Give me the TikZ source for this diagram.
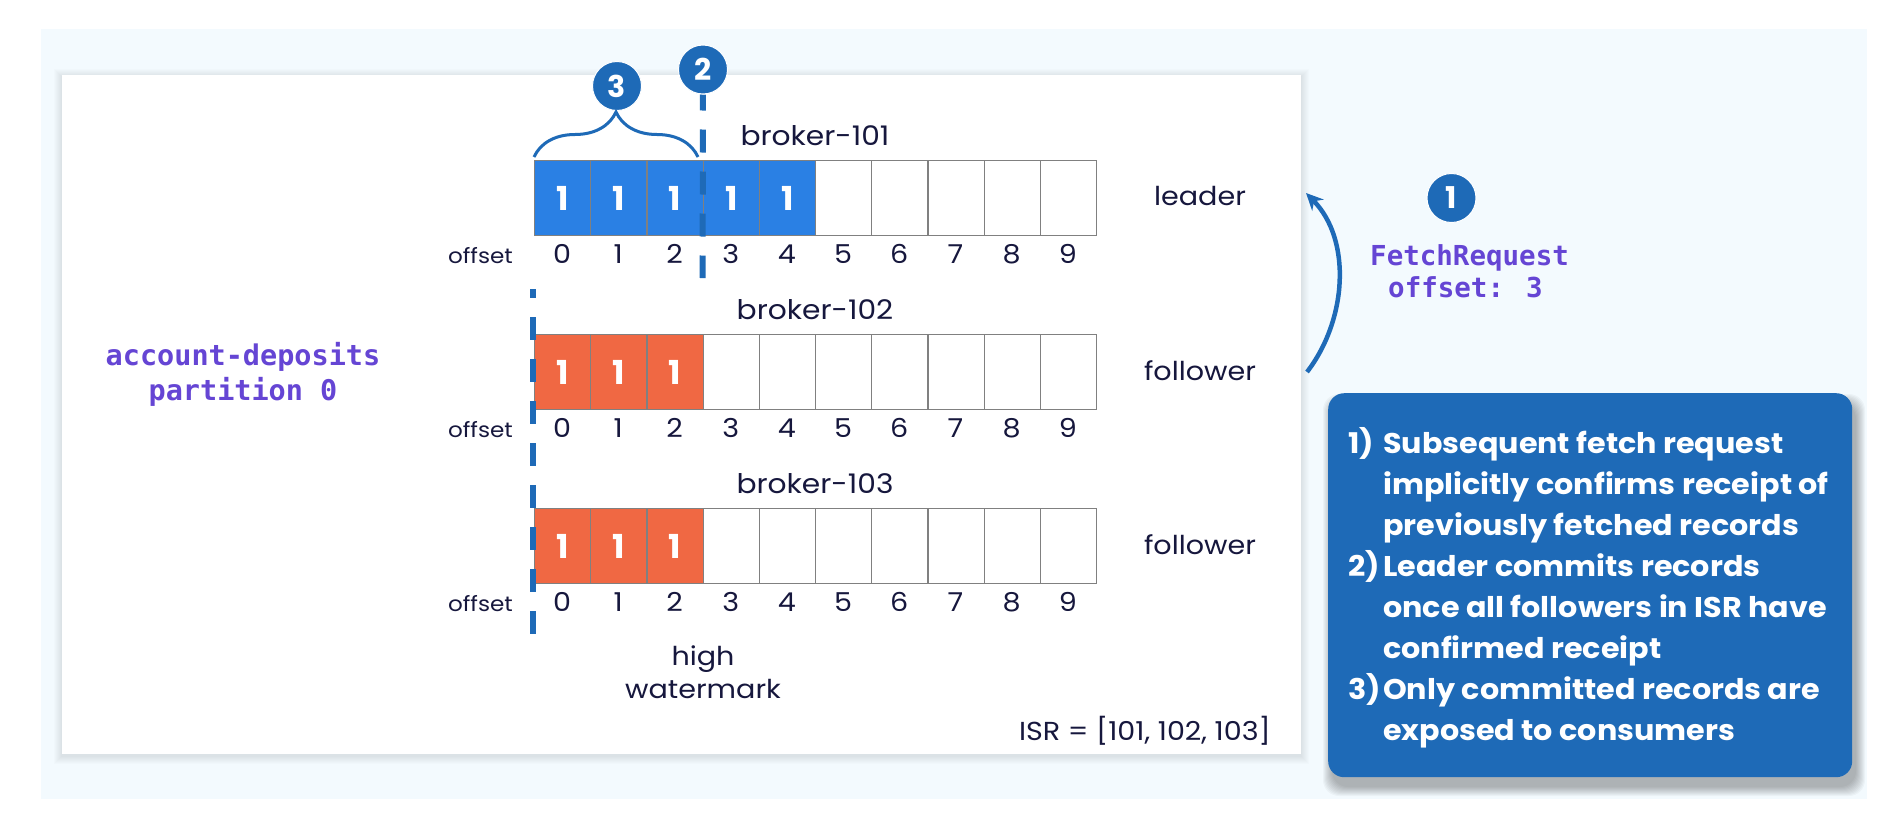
\documentclass[tikz,border=0pt]{standalone}
\usepackage{fontspec}
\setmainfont{Poppins}
\newfontfamily\wide{Poppins}[FakeStretch=1.1]
\newfontfamily\widebold{Poppins}[FakeStretch=1.06]
\newfontfamily\codefont{DejaVu Sans Mono}
\usetikzlibrary{decorations.pathreplacing,arrows.meta}
\definecolor{bgc}{HTML}{F3FAFE}
\definecolor{navy}{HTML}{16173D}
\definecolor{dblue}{HTML}{1E6AB7}
\definecolor{cblue}{HTML}{2A80E4}
\definecolor{corange}{HTML}{F06843}
\definecolor{purp}{HTML}{6545D4}
\definecolor{cellline}{HTML}{808080}
\begin{document}
\begin{tikzpicture}[x=1pt,y=-1pt,
  cell/.style={draw=cellline, line width=1.2pt, minimum width=56.2pt, minimum height=75pt, inner sep=0pt, anchor=north west, text=white, font=\fontsize{33}{33}\selectfont\bfseries},
  numlab/.style={anchor=base, inner sep=0pt, text=navy, font=\fontsize{26}{30}\wide},
  smalllab/.style={anchor=base east, inner sep=0pt, text=navy, font=\fontsize{21}{24}\wide},
  brokerlab/.style={anchor=base, inner sep=0pt, text=navy, font=\fontsize{27}{30}\wide},
  rolelab/.style={anchor=base, inner sep=0pt, text=navy, font=\fontsize{26}{30}\wide},
  circ/.style={circle, fill=dblue, draw=white, line width=1pt, minimum size=49pt, inner sep=0pt, text=white, font=\fontsize{30}{30}\selectfont\bfseries},
  codetxt/.style={inner sep=0pt, text=purp, font=\fontsize{28.5}{36}\codefont\bfseries},
  boxtxt/.style={anchor=base west, inner sep=0pt, text=white, font=\fontsize{28.5}{32}\widebold\bfseries},
  hwm/.style={draw=dblue, line width=6pt, dash pattern=on 23pt off 19pt}
]
\useasboundingbox (0,0) rectangle (1900,830);
\fill[bgc] (41,29) rectangle (1867,799);
% panel with soft shadow
\foreach \s in {1,...,8}
  \fill[black, opacity=0.012] ({62-\s},{75-\s+2}) rectangle ({1301+\s},{754+\s+2});
\fill[white] (62,75) rectangle (1301,754);

% cells
\foreach \r/\top/\n/\fc in {1/160/4/cblue, 2/334/2/corange, 3/508/2/corange} {
  \foreach \i in {0,...,9} {
    \ifnum\i>\n
      \node[cell, fill=white] (c\r-\i) at ({534+\i*56.2},\top) {};
    \else
      \node[cell, fill=\fc] (c\r-\i) at ({534+\i*56.2},\top) {1};
    \fi
    \node[numlab] (o\r-\i) at ({562.1+\i*56.2},{\top+103}) {\i};
  }
  \node[smalllab] (off\r) at (513,{\top+103}) {offset};
}
\node[brokerlab] (b1) at (815,145) {broker-101};
\node[brokerlab] (b2) at (815,319) {broker-102};
\node[brokerlab] (b3) at (815,493) {broker-103};
\node[rolelab] (r1) at (1200,205) {leader};
\node[rolelab] (r2) at (1200,380) {follower};
\node[rolelab] (r3) at (1200,554) {follower};

\node[numlab] (hw1) at (703,665) {high};
\node[numlab] (hw2) at (703,698) {watermark};
\node[numlab, anchor=base east] (isr) at (1271,740) {ISR = [101, 102, 103]};

\node[codetxt, anchor=base] (acc1) at (243,365) {account-deposits};
\node[codetxt, anchor=base] (acc2) at (243,400) {partition 0};

% circles
\node[circ] (n3) at (617,86) {3};
\node[circ] (n2) at (703,69.5) {2};
\node[circ] (n1) at (1451.5,198) {1};

% dashed lines
\coordinate (m2end) at (702.6,278);
\draw[hwm, dash phase=7pt] (n2) -- (m2end);
\coordinate (hwtop) at (533,289);
\coordinate (hwbot) at (533,634);
\draw[hwm, dash phase=14pt] (hwtop) -- (hwbot);
\node[circ] at (n2) {2};

% brace
\coordinate (brL) at (534,157);
\coordinate (brR) at (698,157);
\draw[dblue, line width=3pt, decorate, decoration={brace, amplitude=45pt}] (brL) -- (brR);

% fetch request
\node[codetxt, anchor=base west, font=\fontsize{27.5}{34}\codefont\bfseries] (fr1) at (1370,265) {FetchRequest};
\node[codetxt, anchor=base west, font=\fontsize{27.5}{34}\codefont\bfseries] (fr2) at (1388,297) {offset: 3};
\coordinate (arrS) at (1307,372);
\coordinate (arrE) at (1306,193);
\draw[dblue, line width=4.5pt, -{Stealth[length=17pt,width=16pt]}] (arrS) .. controls (1347,320) and (1352,240) .. (arrE);

% info box
\foreach \s in {0,...,9}
  \fill[black, opacity=0.03, rounded corners=16pt] ({1328+4-\s},{393+10-\s}) rectangle ({1852+4+\s},{777+10+\s});
\node[fill=dblue, rounded corners=16pt, minimum width=524pt, minimum height=384pt, anchor=north west, inner sep=0pt] (infobox) at (1328,393) {};
\node[boxtxt] (k1) at (1348,453) {1)};
\node[boxtxt] (k2) at (1348,576) {2)};
\node[boxtxt] (k3) at (1348,699) {3)};
\foreach \k/\t in {0/Subsequent fetch request, 1/implicitly confirms receipt of, 2/previously fetched records, 3/Leader commits records, 4/once all followers in ISR have, 5/confirmed receipt, 6/Only committed records are, 7/exposed to consumers}
  \node[boxtxt] (bl\k) at (1383,{453+41*\k}) {\t};
\end{tikzpicture}
\end{document}
